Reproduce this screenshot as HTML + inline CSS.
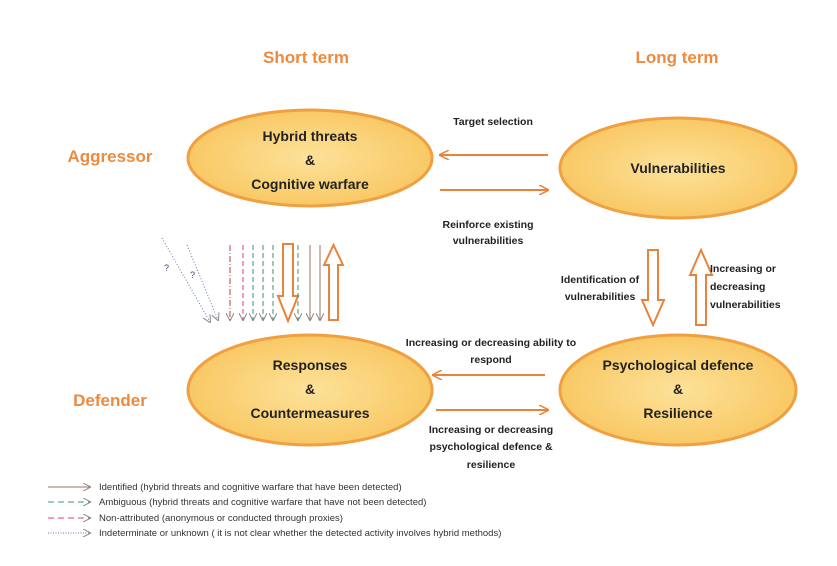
<!DOCTYPE html>
<html><head><style>body{margin:0;background:#fff}svg{display:block}text{font-family:"Liberation Sans",sans-serif}</style></head><body>
<svg width="837" height="566" viewBox="0 0 837 566" xmlns="http://www.w3.org/2000/svg">
<defs>
<radialGradient id="g" cx="50%" cy="50%" r="60%"><stop offset="0" stop-color="#fde29a"/><stop offset="1" stop-color="#f8c35a"/></radialGradient>
<marker id="ao" markerWidth="10" markerHeight="10" refX="9" refY="5" orient="auto" markerUnits="userSpaceOnUse"><path d="M0,0 L10,5 L0,10" fill="none" stroke="#e8843a" stroke-width="1.5"/></marker>
<marker id="as" markerWidth="8" markerHeight="8" refX="7" refY="4" orient="auto" markerUnits="userSpaceOnUse"><path d="M0,0 L8,4 L0,8" fill="none" stroke="#888" stroke-width="1"/></marker>
</defs>
<g font-weight="bold" fill="#ed8a3e" font-size="17">
<text x="306" y="63" text-anchor="middle">Short term</text>
<text x="677" y="63" text-anchor="middle">Long term</text>
<text x="110" y="162" text-anchor="middle">Aggressor</text>
<text x="110" y="406" text-anchor="middle">Defender</text>
</g>
<g fill="url(#g)" stroke="#f0a040" stroke-width="3">
<ellipse cx="310" cy="158" rx="122" ry="48"/>
<ellipse cx="678" cy="168" rx="118" ry="50"/>
<ellipse cx="310" cy="390" rx="122" ry="55"/>
<ellipse cx="678" cy="390" rx="118" ry="55"/>
</g>
<g font-size="14" fill="#222" text-anchor="middle" font-weight="bold">
<text x="310" y="141">Hybrid threats</text><text x="310" y="165">&amp;</text><text x="310" y="189">Cognitive warfare</text>
<text x="678" y="173">Vulnerabilities</text>
<text x="310" y="370">Responses</text><text x="310" y="394">&amp;</text><text x="310" y="418">Countermeasures</text>
<text x="678" y="370">Psychological defence</text><text x="678" y="394">&amp;</text><text x="678" y="418">Resilience</text>
</g>
<g stroke="#e8843a" stroke-width="2" fill="none">
<line x1="548" y1="155" x2="440" y2="155" marker-end="url(#ao)"/>
<line x1="440" y1="190" x2="548" y2="190" marker-end="url(#ao)"/>
<line x1="545" y1="375" x2="433" y2="375" marker-end="url(#ao)"/>
<line x1="436" y1="410" x2="548" y2="410" marker-end="url(#ao)"/>
</g>
<g stroke="#e8843a" stroke-width="2" fill="#fff">
<path d="M648,250 h10 v50 h6 l-11,25 l-11,-25 h6z"/>
<path d="M696,325 h10 v-50 h6 l-11,-25 l-11,25 h6z"/>
<path d="M283,244 h10 v52 h5 l-10,25 l-10,-25 h5z"/>
<path d="M329,320 h9 v-55 h5 l-9.5,-20 l-9.5,20 h5z"/>
</g>
<g font-size="10.5" fill="#222" text-anchor="middle" font-weight="bold">
<text x="493" y="125">Target selection</text>
<text x="488" y="228">Reinforce existing</text><text x="488" y="244">vulnerabilities</text>
<text x="600" y="283">Identification of</text><text x="600" y="300">vulnerabilities</text>
<text x="710" y="272" text-anchor="start">Increasing or</text><text x="710" y="290" text-anchor="start">decreasing</text><text x="710" y="308" text-anchor="start">vulnerabilities</text>
<text x="491" y="346">Increasing or decreasing ability to</text><text x="491" y="363">respond</text>
<text x="491" y="433">Increasing or decreasing</text><text x="491" y="450">psychological defence &amp;</text><text x="491" y="468">resilience</text>
</g>
<g stroke-width="1" fill="none">
<line x1="230" y1="245" x2="230" y2="320" stroke="#c04040" stroke-dasharray="6,2,1,2" marker-end="url(#as)"/>
<line x1="243" y1="245" x2="243" y2="320" stroke="#e04060" stroke-dasharray="5,3" marker-end="url(#as)"/>
<line x1="253" y1="245" x2="253" y2="320" stroke="#3a9a6a" stroke-dasharray="5,3" marker-end="url(#as)"/>
<line x1="263" y1="245" x2="263" y2="320" stroke="#3a9a6a" stroke-dasharray="5,3" marker-end="url(#as)"/>
<line x1="273" y1="245" x2="273" y2="320" stroke="#3a9a6a" stroke-dasharray="5,3" marker-end="url(#as)"/>
<line x1="298" y1="245" x2="298" y2="320" stroke="#3a9a6a" stroke-dasharray="5,3" marker-end="url(#as)"/>
<line x1="310" y1="245" x2="310" y2="320" stroke="#a07060" marker-end="url(#as)"/>
<line x1="320" y1="245" x2="320" y2="320" stroke="#a07060" marker-end="url(#as)"/>
<line x1="162" y1="238" x2="210" y2="322" stroke="#5a7ab0" stroke-dasharray="1,2" marker-end="url(#as)"/>
<line x1="187" y1="245" x2="218" y2="320" stroke="#5a7ab0" stroke-dasharray="1,2" marker-end="url(#as)"/>
</g>
<text x="164" y="271" font-size="9" fill="#446">?</text><text x="190" y="278" font-size="9" fill="#446">?</text>
<g stroke-width="1" fill="none">
<line x1="48" y1="487" x2="90" y2="487" stroke="#a07060" marker-end="url(#as)"/>
<line x1="48" y1="502" x2="90" y2="502" stroke="#3a9a6a" stroke-dasharray="6,4" marker-end="url(#as)"/>
<line x1="48" y1="518" x2="90" y2="518" stroke="#e04060" stroke-dasharray="6,4" marker-end="url(#as)"/>
<line x1="48" y1="533" x2="90" y2="533" stroke="#5a7ab0" stroke-dasharray="1,1.5" marker-end="url(#as)"/>
</g>
<g font-size="9.5" fill="#333">
<text x="99" y="490">Identified (hybrid threats and cognitive warfare that have been detected)</text>
<text x="99" y="505">Ambiguous (hybrid threats and cognitive warfare that have not been detected)</text>
<text x="99" y="521">Non-attributed (anonymous or conducted through proxies)</text>
<text x="99" y="536">Indeterminate or unknown ( it is not clear whether the detected activity involves hybrid methods)</text>
</g>
</svg>
</body></html>
